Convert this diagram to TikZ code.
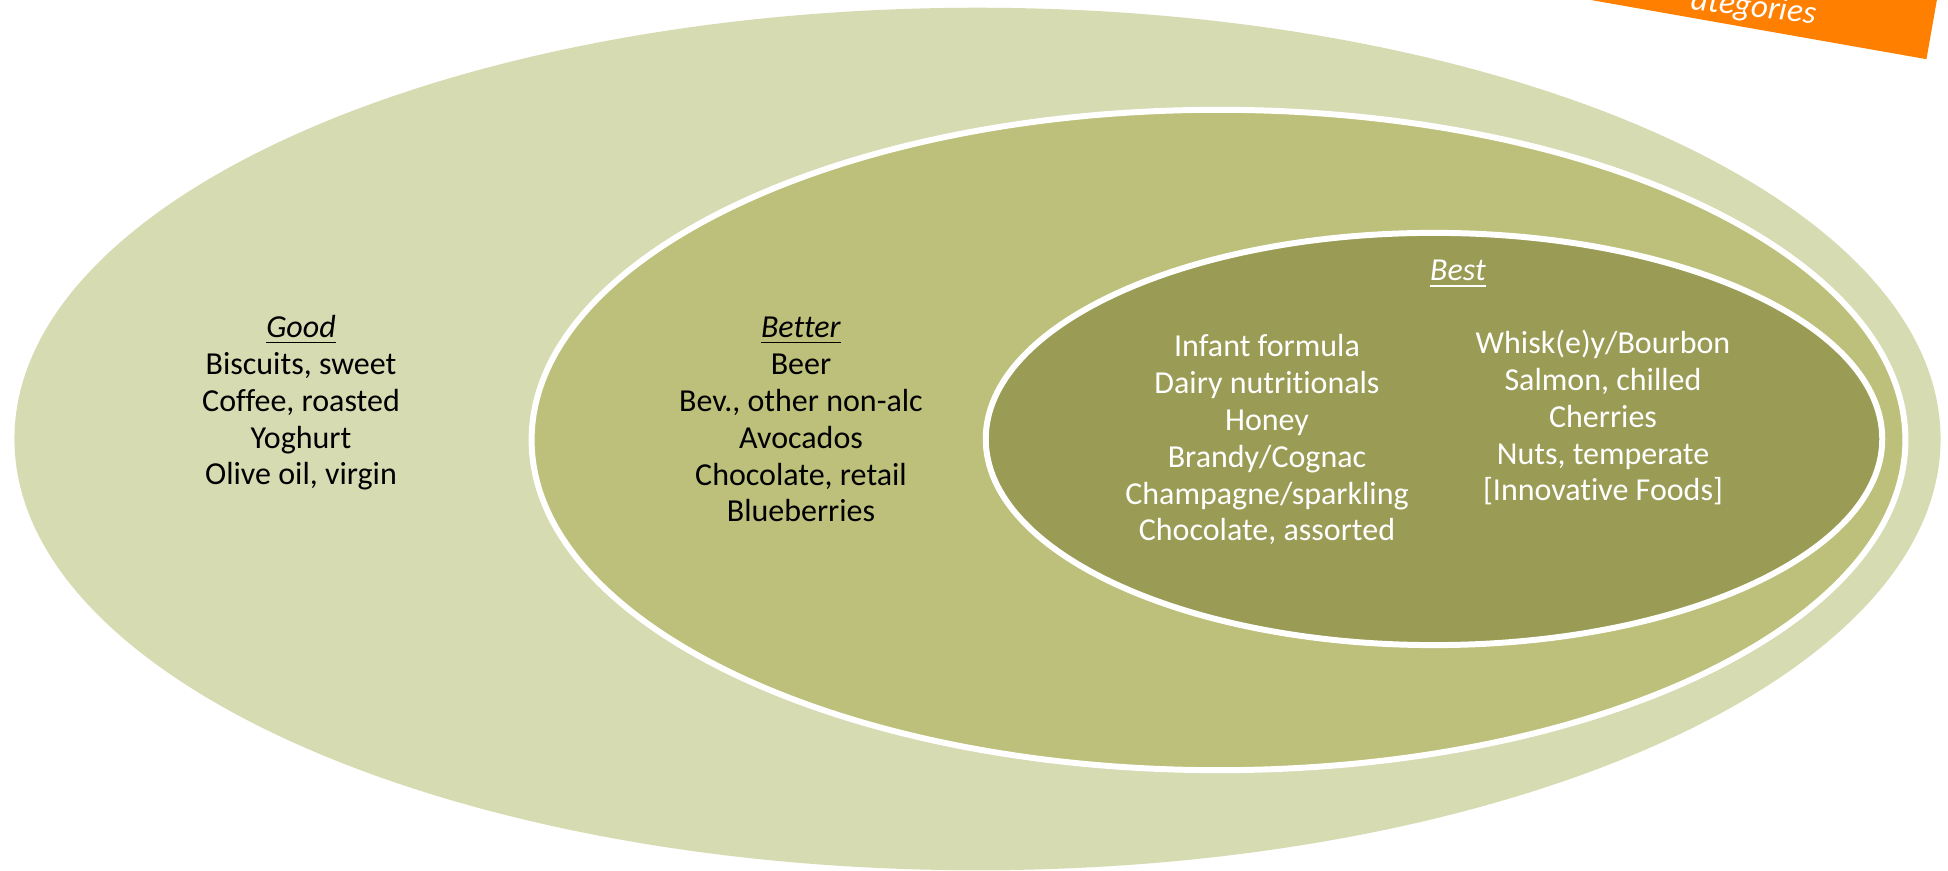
\documentclass[tikz,border=0pt]{standalone}
\usepackage{fontspec}
\setmainfont{Carlito}[Ligatures=NoCommon]
\definecolor{goodfill}{HTML}{D6DBB2}
\definecolor{betterfill}{HTML}{BDC07A}
\definecolor{bestfill}{HTML}{9A9C56}
\definecolor{bannerorange}{HTML}{FF7F00}
\begin{document}
\begin{tikzpicture}[x=0.01cm, y=-0.01cm,
  ring/.style={draw=white, line width=1.7pt},
  % multi-line blocks are anchored at the baseline of their last line
  itemtext/.style={align=center, inner sep=0pt, anchor=base,
    font=\fontsize{9.1}{10.5}\selectfont},
  head/.style={inner sep=0pt, anchor=base, font=\fontsize{9.1}{10.5}\selectfont}]
\useasboundingbox (0,0) rectangle (1948,871);
\clip (0,0) rectangle (1948,871);

% nested tiers
\fill[goodfill] (977.5,439) ellipse [x radius=9.625cm, y radius=4.31cm];
\draw[ring, fill=betterfill] (1218.5,440) ellipse [x radius=6.865cm, y radius=3.30cm];
\draw[ring, fill=bestfill] (1434,439) ellipse [x radius=4.48cm, y radius=2.06cm];

% corner banner
\node[fill=bannerorange, rotate=-10, minimum width=6cm, minimum height=2cm,
      anchor=south east, inner sep=0pt] (banner) at (1927,60) {};
\node[rotate=-7, anchor=base west, inner sep=0pt, text=white,
      font=\fontsize{9.4}{10.5}\selectfont\itshape] (bannertext) at (1690,9) {ategories};

% tier contents
\node[itemtext] (good) at (301,485)
  {\underline{\textit{Good}}\\Biscuits, sweet\\Coffee, roasted\\Yoghurt\\Olive oil, virgin};
\node[itemtext] (better) at (801,522)
  {\underline{\textit{Better}}\\Beer\\Bev., other non-alc\\Avocados\\Chocolate, retail\\Blueberries};
\node[head, text=white] (besthead) at (1458,281) {\underline{\textit{Best}}};
\node[itemtext, text=white] (bestleft) at (1267,541)
  {Infant formula\\Dairy nutritionals\\Honey\\Brandy/Cognac\\Champagne/sparkling\\Chocolate, assorted};
\node[itemtext, text=white] (bestright) at (1603,501)
  {Whisk(e)y/Bourbon\\Salmon, chilled\\Cherries\\Nuts, temperate\\{[}Innovative Foods{]}};
\end{tikzpicture}
\end{document}
